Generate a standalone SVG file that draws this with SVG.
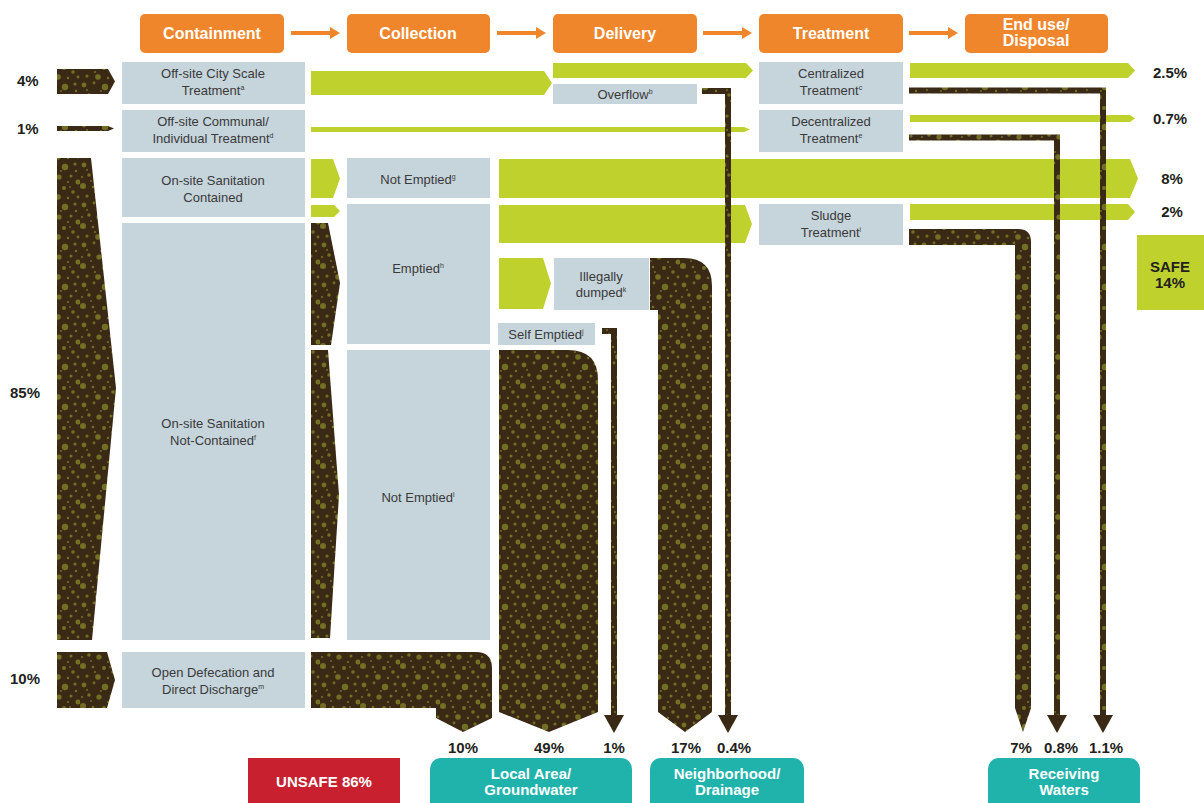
<svg xmlns="http://www.w3.org/2000/svg" width="1204" height="803" viewBox="0 0 1204 803">
<defs>
<style>
.hd{fill:#f0862b}
.bx{fill:#c6d4db}
.gr{fill:#bfd12c}
.br{fill:url(#dots)}
.ln{fill:none;stroke:url(#dots);stroke-width:6;marker-end:url(#head)}
.oa{fill:none;stroke:#f0862b;stroke-width:4;marker-end:url(#ohead)}
.teal{fill:#1fb3ab}
.h{font-family:"Liberation Sans",Arial,sans-serif;font-weight:bold;font-size:16px;fill:#fff;text-anchor:middle}
.t{font-family:"Liberation Sans",Arial,sans-serif;font-size:13px;fill:#3a3a3a;text-anchor:middle}
.p{font-family:"Liberation Sans",Arial,sans-serif;font-weight:bold;font-size:15px;fill:#231f20}
.pm{text-anchor:middle}
.w{font-family:"Liberation Sans",Arial,sans-serif;font-weight:bold;font-size:15px;fill:#fff;text-anchor:middle}
.s{font-size:7px}
</style>
<pattern id="dots" width="40" height="40" patternUnits="userSpaceOnUse">
<rect width="40" height="40" fill="#3a2a15"/>
<g fill="#736f22">
<circle cx="4" cy="5" r="2.4"/><circle cx="14" cy="3" r="1.4"/><circle cx="25" cy="7" r="3.2"/><circle cx="35" cy="4" r="1.6"/>
<circle cx="9" cy="15" r="1.8"/><circle cx="19" cy="17" r="2.6"/><circle cx="31" cy="16" r="1.5"/><circle cx="38" cy="22" r="2.5"/>
<circle cx="3" cy="26" r="3"/><circle cx="13" cy="27" r="1.3"/><circle cx="24" cy="28" r="2"/><circle cx="33" cy="32" r="1.8"/>
<circle cx="7" cy="36" r="1.6"/><circle cx="18" cy="37" r="2.8"/><circle cx="28" cy="38" r="1.2"/><circle cx="11" cy="21" r="0.9"/>
<circle cx="28" cy="22" r="1.1"/><circle cx="36" cy="11" r="1.2"/><circle cx="21" cy="11" r="0.9"/><circle cx="7" cy="10" r="1"/>
<circle cx="15" cy="32" r="1"/><circle cx="38" cy="37" r="1.4"/><circle cx="30" cy="27" r="0.9"/><circle cx="2" cy="17" r="1.1"/>
</g>
</pattern>
<marker id="head" markerUnits="userSpaceOnUse" markerWidth="18" markerHeight="20" viewBox="0 -10 18 20" refX="0" refY="0" orient="auto">
<path d="M0,-10 L18,0 L0,10 Z" fill="#3a2a15"/>
</marker>
<marker id="ohead" markerUnits="userSpaceOnUse" markerWidth="10" markerHeight="12" viewBox="0 -6 10 12" refX="0" refY="0" orient="auto">
<path d="M0,-6 L10,0 L0,6 Z" fill="#f0862b"/>
</marker>
</defs>
<rect width="1204" height="803" fill="#fff"/>

<g id="header-containment"><rect class="hd" x="140" y="14" width="144" height="39" rx="5"/><text class="h" x="212" y="39">Containment</text></g>
<g id="header-collection"><rect class="hd" x="347" y="14" width="143" height="39" rx="5"/><text class="h" x="418" y="39">Collection</text></g>
<g id="header-delivery"><rect class="hd" x="553" y="14" width="144" height="39" rx="5"/><text class="h" x="625" y="39">Delivery</text></g>
<g id="header-treatment"><rect class="hd" x="759" y="14" width="144" height="39" rx="5"/><text class="h" x="831" y="39">Treatment</text></g>
<g id="header-enduse"><rect class="hd" x="965" y="14" width="143" height="39" rx="5"/><text class="h" x="1036" y="30">End use/</text><text class="h" x="1036" y="46">Disposal</text></g>

<g id="node-city"><rect class="bx" x="122" y="62" width="183" height="42"/><text class="t" x="213" y="78">Off-site City Scale</text><text class="t" x="213" y="95">Treatment<tspan class="s" dy="-5">a</tspan></text></g>
<g id="node-communal"><rect class="bx" x="122" y="110" width="183" height="42"/><text class="t" x="213" y="126">Off-site Communal/</text><text class="t" x="213" y="143">Individual Treatment<tspan class="s" dy="-5">d</tspan></text></g>
<g id="node-contained"><rect class="bx" x="122" y="158" width="183" height="59"/><text class="t" x="213" y="185">On-site Sanitation</text><text class="t" x="213" y="202">Contained</text></g>
<g id="node-notcontained"><rect class="bx" x="122" y="223" width="183" height="417"/><text class="t" x="213" y="428">On-site Sanitation</text><text class="t" x="213" y="445">Not-Contained<tspan class="s" dy="-5">f</tspan></text></g>
<g id="node-opendef"><rect class="bx" x="122" y="652" width="183" height="56"/><text class="t" x="213" y="677">Open Defecation and</text><text class="t" x="213" y="694">Direct Discharge<tspan class="s" dy="-5">m</tspan></text></g>

<g id="node-notemptied1"><rect class="bx" x="347" y="158" width="143" height="40"/><text class="t" x="418" y="184">Not Emptied<tspan class="s" dy="-5">g</tspan></text></g>
<g id="node-emptied"><rect class="bx" x="347" y="204" width="143" height="140"/><text class="t" x="418" y="273">Emptied<tspan class="s" dy="-5">h</tspan></text></g>
<g id="node-notemptied2"><rect class="bx" x="347" y="350" width="143" height="290"/><text class="t" x="418" y="502">Not Emptied<tspan class="s" dy="-5">l</tspan></text></g>

<g id="node-overflow"><rect class="bx" x="553" y="84" width="144" height="20"/><text class="t" x="625" y="99">Overflow<tspan class="s" dy="-5">b</tspan></text></g>
<g id="node-illegal"><rect class="bx" x="554" y="258" width="95" height="52"/><text class="t" x="601" y="281">Illegally</text><text class="t" x="601" y="297">dumped<tspan class="s" dy="-5">k</tspan></text></g>
<g id="node-self"><rect class="bx" x="498" y="323" width="97" height="22"/><text class="t" x="546" y="339">Self Emptied<tspan class="s" dy="-5">j</tspan></text></g>

<g id="node-central"><rect class="bx" x="759" y="62" width="144" height="42"/><text class="t" x="831" y="78">Centralized</text><text class="t" x="831" y="95">Treatment<tspan class="s" dy="-5">c</tspan></text></g>
<g id="node-decentral"><rect class="bx" x="759" y="110" width="144" height="42"/><text class="t" x="831" y="126">Decentralized</text><text class="t" x="831" y="143">Treatment<tspan class="s" dy="-5">e</tspan></text></g>
<g id="node-sludge"><rect class="bx" x="759" y="204" width="144" height="41"/><text class="t" x="831" y="220">Sludge</text><text class="t" x="831" y="237">Treatment<tspan class="s" dy="-5">i</tspan></text></g>

<g id="node-safe"><rect class="gr" x="1137" y="235" width="67" height="75"/><text class="p pm" x="1170" y="272">SAFE</text><text class="p pm" x="1170" y="288">14%</text></g>
<g id="node-unsafe"><rect fill="#c8202e" x="248" y="758" width="152" height="45"/><text class="w" x="324" y="787">UNSAFE 86%</text></g>
<g id="node-local"><rect class="teal" x="430" y="758" width="202" height="60" rx="11"/><text class="w" x="531" y="779">Local Area/</text><text class="w" x="531" y="795">Groundwater</text></g>
<g id="node-neigh"><rect class="teal" x="650" y="758" width="154" height="60" rx="11"/><text class="w" x="727" y="779">Neighborhood/</text><text class="w" x="727" y="795">Drainage</text></g>
<g id="node-receiving"><rect class="teal" x="988" y="758" width="152" height="60" rx="11"/><text class="w" x="1064" y="779">Receiving</text><text class="w" x="1064" y="795">Waters</text></g>

<g id="connectors">
<line class="oa" x1="291" y1="33" x2="330" y2="33"/>
<line class="oa" x1="497" y1="33" x2="536" y2="33"/>
<line class="oa" x1="703" y1="33" x2="742" y2="33"/>
<line class="oa" x1="909" y1="33" x2="948" y2="33"/>

<polygon class="br" points="57,69 108,69 115,81.5 108,94 57,94"/>
<polygon class="br" points="57,126 108,126 114,128.5 108,131 57,131"/>
<polygon class="br" points="57,158 91,158 116,388 92,640 57,640"/>
<polygon class="br" points="57,652 107,652 115,680 107,708 57,708"/>

<polygon class="gr" points="311,71 544,71 552,83 544,95 311,95"/>
<polygon class="gr" points="553,63 746,63 753,70.5 746,78 553,78"/>
<polygon class="gr" points="311,127 744,127 750,129.5 744,132 311,132"/>
<polygon class="gr" points="311,159 333,159 340,178.5 333,198 311,198"/>
<polygon class="gr" points="311,205 334,205 340,211 334,217 311,217"/>
<polygon class="gr" points="499,159 1130,159 1138,178.5 1130,198 499,198"/>
<polygon class="gr" points="499,205 745,205 752,224 745,243 499,243"/>
<polygon class="gr" points="499,258 543,258 551,283.5 543,309 499,309"/>
<polygon class="gr" points="910,63 1128,63 1135,70.5 1128,78 910,78"/>
<polygon class="gr" points="910,115 1130,115 1135,118.5 1130,122 910,122"/>
<polygon class="gr" points="910,204 1128,204 1135,212 1128,220 910,220"/>

<polygon class="br" points="311,223 328,223 340,283 331,345 311,345"/>
<polygon class="br" points="311,350 328,350 339,495 330,638 311,638"/>
<path class="br" d="M311,652 H476 Q492,652 492,668 V718 L463,732 L436,718 V708 H311 Z"/>
<path class="br" d="M499,350 H568 Q598,350 598,380 V712 L549,732 L499,712 Z"/>
<path class="br" d="M650,258 H684 Q712,258 712,286 V712 L685,732 L658,712 V310 H650 Z"/>
<path class="br" d="M909,229 H1018 Q1031,229 1031,242 V708 L1023,732 L1015,708 V245 H909 Z"/>

<path class="ln" d="M702,91 H728 V715"/>
<path class="ln" d="M909,90.5 H1103 V715"/>
<path class="ln" d="M909,137.5 H1057 V715"/>
<path class="ln" d="M602,331 H614 V715"/>
</g>

<g id="labels">
<text class="p" x="17" y="86">4%</text>
<text class="p" x="17" y="134">1%</text>
<text class="p" x="10" y="398">85%</text>
<text class="p" x="10" y="684">10%</text>
<text class="p pm" x="1170" y="78">2.5%</text>
<text class="p pm" x="1170" y="124">0.7%</text>
<text class="p pm" x="1172" y="184">8%</text>
<text class="p pm" x="1172" y="217">2%</text>
<text class="p pm" x="463" y="753">10%</text>
<text class="p pm" x="549" y="753">49%</text>
<text class="p pm" x="614" y="753">1%</text>
<text class="p pm" x="686" y="753">17%</text>
<text class="p pm" x="734" y="753">0.4%</text>
<text class="p pm" x="1021" y="753">7%</text>
<text class="p pm" x="1061" y="753">0.8%</text>
<text class="p pm" x="1106" y="753">1.1%</text>
</g>
</svg>
